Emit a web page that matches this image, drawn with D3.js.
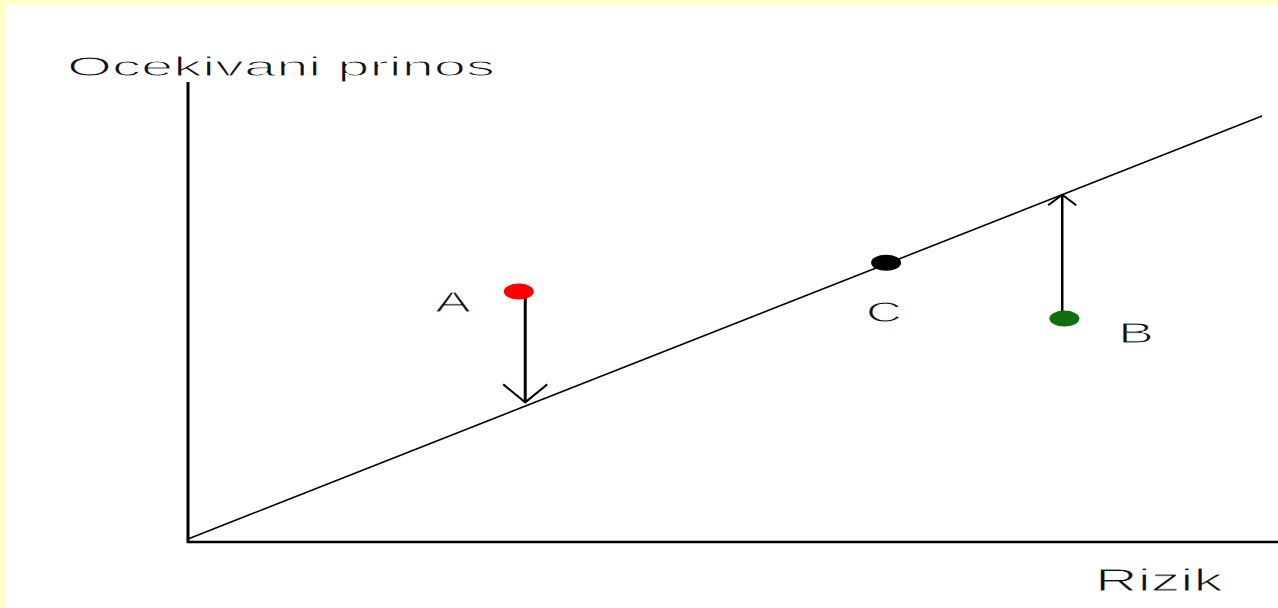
<!DOCTYPE html>
<html>
<head>
<meta charset="utf-8">
<script src="https://cdn.jsdelivr.net/npm/d3@7"></script>
<style>
  html, body { margin: 0; padding: 0; background: #fff; }
  svg { display: block; }
  text { font-family: "Liberation Sans", Arial, sans-serif; fill: #111; stroke: #fff; stroke-width: 0.9; }
</style>
</head>
<body>
<div id="chart"></div>
<script>
// Data (risk on x, expected return on y, arbitrary 0-100 units)
const lineX = [0, 100];
const lineY = [0, 100];
const pointNames = ["A", "C", "B"];
const pointRisk = [30.8, 65.0, 81.6];
const pointReturn = [58.5, 65.3, 52.1];
const pointColors = ["#ff0000", "#000000", "#107010"];
const arrowRisk = [31.4, 81.4];
const arrowFrom = [57.1, 52.6];
const arrowTo = [32.3, 81.4];
const yTitle = "Ocekivani prinos";
const xTitle = "Rizik";

const W = 1278, H = 608;

const svg = d3.select("#chart")
  .append("svg")
  .attr("width", W)
  .attr("height", H);

// Pale yellow frame
svg.append("rect")
  .attr("width", W).attr("height", H)
  .attr("fill", "#ffffc8");
svg.append("rect")
  .attr("x", 6).attr("y", 5)
  .attr("width", W - 6).attr("height", H - 5)
  .attr("fill", "#ffffff");

const x = d3.scaleLinear().domain([0, 100]).range([188, 1262]);
const y = d3.scaleLinear().domain([0, 100]).range([539, 116]);

// Axes (no ticks)
svg.append("line")
  .attr("x1", x(0)).attr("x2", x(0))
  .attr("y1", 82).attr("y2", 543)
  .attr("stroke", "#000").attr("stroke-width", 3);
svg.append("line")
  .attr("x1", x(0) - 1).attr("x2", W)
  .attr("y1", 542).attr("y2", 542)
  .attr("stroke", "#000").attr("stroke-width", 2.5);

// Security market line
svg.append("path")
  .datum(lineX.map((d, i) => [d, lineY[i]]))
  .attr("d", d3.line().x(d => x(d[0])).y(d => y(d[1])))
  .attr("fill", "none")
  .attr("stroke", "#000")
  .attr("stroke-width", 1.6);

// Arrows
const heads = [
  { len: 24, spread: 22, w: 3 },
  { len: 14, spread: 14, w: 2.5 }
];
arrowRisk.forEach((r, i) => {
  const ax = x(r), y1 = y(arrowFrom[i]), y2 = y(arrowTo[i]);
  const h = heads[i];
  svg.append("line")
    .attr("x1", ax).attr("x2", ax)
    .attr("y1", y1).attr("y2", y2)
    .attr("stroke", "#000").attr("stroke-width", h.w);
  const dir = y2 > y1 ? -1 : 1;
  svg.append("path")
    .attr("d", `M${ax - h.spread},${y2 + dir * h.len * 0.75} L${ax},${y2} L${ax + h.spread},${y2 + dir * h.len * 0.75}`)
    .attr("fill", "none")
    .attr("stroke", "#000")
    .attr("stroke-width", 2);
});

// Points
svg.selectAll("ellipse.pt")
  .data(pointNames)
  .join("ellipse")
  .attr("class", "pt")
  .attr("cx", (d, i) => x(pointRisk[i]))
  .attr("cy", (d, i) => y(pointReturn[i]))
  .attr("rx", 15)
  .attr("ry", 8)
  .attr("fill", (d, i) => pointColors[i]);

// Point labels
const labelPos = { A: [435, 312], C: [866, 322], B: [1118, 343] };
svg.selectAll("text.lbl")
  .data(pointNames)
  .join("text")
  .attr("class", "lbl")
  .attr("x", d => labelPos[d][0])
  .attr("y", d => labelPos[d][1])
  .attr("font-size", 30)
  .attr("textLength", 36)
  .attr("lengthAdjust", "spacingAndGlyphs")
  .text(d => d);

// Axis titles
svg.append("text")
  .attr("x", 67).attr("y", 76)
  .attr("font-size", 28)
  .attr("textLength", 428)
  .attr("lengthAdjust", "spacingAndGlyphs")
  .text(yTitle);

svg.append("text")
  .attr("x", 1095).attr("y", 591)
  .attr("font-size", 31)
  .attr("textLength", 128)
  .attr("lengthAdjust", "spacingAndGlyphs")
  .text(xTitle);
</script>
</body>
</html>
